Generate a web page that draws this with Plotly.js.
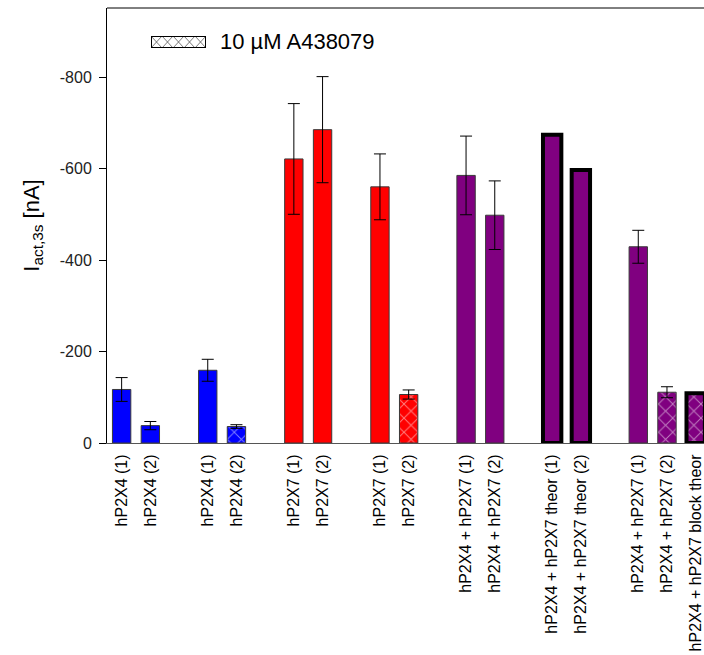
<!DOCTYPE html>
<html>
<head>
<meta charset="utf-8">
<script src="https://cdn.plot.ly/plotly-3.0.1.min.js"></script>
<style>
html,body{margin:0;padding:0;overflow:hidden;background:#fff;}
#chart{width:704px;height:655px;}
</style>
</head>
<body>
<div id="chart"></div>
<script>
// ---- data ----
var labels = [
  "hP2X4 (1)", "hP2X4 (2)",
  "hP2X4 (1)", "hP2X4 (2)",
  "hP2X7 (1)", "hP2X7 (2)",
  "hP2X7 (1)", "hP2X7 (2)",
  "hP2X4 + hP2X7 (1)", "hP2X4 + hP2X7 (2)",
  "hP2X4 + hP2X7 theor (1)", "hP2X4 + hP2X7 theor (2)",
  "hP2X4 + hP2X7 (1)", "hP2X4 + hP2X7 (2)", "hP2X4 + hP2X7 block theor"
];
var groupIndex = [0,0, 1,1, 2,2, 3,3, 4,4, 5,5, 6,6,6];
var currents = [-117, -38, -159, -36, -621, -685, -560, -106, -585, -498, -674, -597, -429, -111, -109];
var errors   = [26, 9, 24, 4, 121, 116, 72, 10, 86, 75, null, null, 36, 12, null];
var receptor = ["P2X4","P2X4","P2X4","P2X4","P2X7","P2X7","P2X7","P2X7","both","both","both","both","both","both","both"];
var blocked  = [false,false,false,true,false,false,false,true,false,false,false,false,false,true,true];
var theoretical = [false,false,false,false,false,false,false,false,false,false,true,true,false,false,true];
var yTickValues = [0, -200, -400, -600, -800];
var yTickLabels = ["0", "-200", "-400", "-600", "-800"];
var legendLabel = "10 µM A438079";

// ---- styling ----
var colorOf = {P2X4: "#0000FF", P2X7: "#FF0000", both: "#800080"};
var slots = labels.map(function(_, i){ return i + groupIndex[i]; });

function subset(flag){
  var idx = [];
  for (var i = 0; i < labels.length; i++) if (theoretical[i] === flag) idx.push(i);
  return idx;
}
function makeTrace(flag){
  var idx = subset(flag);
  var cols = idx.map(function(i){ return colorOf[receptor[i]]; });
  var tr = {
    type: "bar",
    x: idx.map(function(i){ return slots[i]; }),
    y: idx.map(function(i){ return currents[i]; }),
    width: 0.64,
    showlegend: false,
    hoverinfo: "skip",
    marker: {
      color: cols,
      line: {color: flag ? "#000000" : "#3a3a3a", width: flag ? 4 : 1},
      pattern: {
        shape: idx.map(function(i){ return blocked[i] ? "x" : ""; }),
        fillmode: "overlay",
        fgcolor: "#000000",
        bgcolor: cols,
        size: 10,
        solidity: 0.18
      }
    }
  };
  if (!flag) {
    tr.error_y = {
      type: "data",
      array: idx.map(function(i){ return errors[i]; }),
      symmetric: true,
      color: "#000000",
      thickness: 1,
      width: 6
    };
  }
  return tr;
}

var traces = [makeTrace(false), makeTrace(true)];

var swatch = "<svg xmlns='http://www.w3.org/2000/svg' width='55' height='12' viewBox='0 0 55 12'>" +
  "<defs><pattern id='p' width='11' height='12' patternUnits='userSpaceOnUse'>" +
  "<path d='M0,0L11,12M11,0L0,12' stroke='#555' stroke-width='0.8' fill='none'/></pattern></defs>" +
  "<rect x='0.5' y='0.5' width='54' height='11' fill='#fff'/>" +
  "<rect x='0.5' y='0.5' width='54' height='11' fill='url(#p)' stroke='#000' stroke-width='1'/></svg>";

var layout = {
  width: 704,
  height: 655,
  margin: {l: 107, r: 0, t: 8, b: 212, pad: 0},
  paper_bgcolor: "#ffffff",
  plot_bgcolor: "#ffffff",
  barmode: "overlay",
  font: {family: "Liberation Sans, Arial, sans-serif", color: "#000000"},
  xaxis: {
    range: [-0.51, 20.29],
    tickmode: "array",
    tickvals: slots,
    ticktext: labels,
    tickangle: -90,
    ticks: "",
    ticklabelstandoff: 4,
    tickfont: {size: 16, color: "#000000"},
    showgrid: false,
    zeroline: false,
    showline: true,
    linecolor: "#555555",
    linewidth: 1,
    automargin: false,
    fixedrange: true
  },
  yaxis: {
    range: [0, -951],
    tickmode: "array",
    tickvals: yTickValues,
    ticktext: yTickLabels,
    ticks: "outside",
    ticklen: 7,
    tickcolor: "#000000",
    tickfont: {size: 16, color: "#222222"},
    ticklabelstandoff: 4,
    showgrid: false,
    zeroline: false,
    showline: true,
    linecolor: "#000000",
    linewidth: 1,
    automargin: false,
    title: {text: "I<sub>act,3s</sub> [nA]", font: {size: 22, color: "#000000"}, standoff: 14}
  },
  shapes: [
    {type: "line", xref: "paper", yref: "paper", x0: 0, x1: 1, y0: 1, y1: 1,
     line: {color: "#000000", width: 1}}
  ],
  images: [
    {source: "data:image/svg+xml;charset=utf-8," + encodeURIComponent(swatch),
     xref: "paper", yref: "paper",
     x: (151 - 107) / 597, y: (443 - 36) / 435,
     sizex: 55 / 597, sizey: 12 / 435,
     sizing: "stretch", xanchor: "left", yanchor: "top", layer: "above"}
  ],
  annotations: [
    {text: legendLabel, xref: "paper", yref: "paper",
     x: (218 - 107) / 597, y: (443 - 42) / 435,
     xanchor: "left", yanchor: "middle", showarrow: false,
     font: {size: 22, color: "#000000"}}
  ]
};

Plotly.newPlot("chart", traces, layout, {displayModeBar: false, staticPlot: true});
</script>
</body>
</html>
